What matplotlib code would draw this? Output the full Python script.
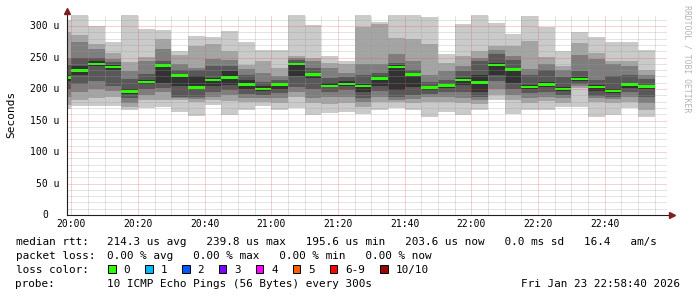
import matplotlib
matplotlib.use("Agg")
import matplotlib.pyplot as plt
import matplotlib.dates as mdates
from matplotlib.patches import Rectangle
import numpy as np
import pandas as pd

# sorted ping rtts per 5 min step (microseconds), ping1 = fastest ... ping10 = slowest
ping1 = [168, 173, 173, 173, 166, 170, 171, 163, 157, 175, 159, 166, 173, 167, 170, 159, 162, 164,
         161, 167, 170, 167, 156, 164, 159, 166, 183, 161, 167, 167, 171, 171, 156, 159, 170, 156]
ping2 = [175, 183, 185, 188, 172, 182, 182, 182, 180, 183, 181, 180, 180, 178, 187, 178, 177, 178,
         172, 180, 179, 178, 180, 180, 178, 177, 190, 182, 178, 181, 178, 202, 180, 178, 180, 167]
ping3 = [188, 195, 200, 197, 178, 190, 196, 185, 184, 188, 191, 186, 186, 186, 196, 186, 187, 188,
         180, 188, 183, 184, 187, 188, 186, 183, 200, 190, 186, 187, 185, 205, 185, 184, 188, 178]
ping4 = [200, 208, 212, 204, 185, 200, 202, 188, 188, 195, 198, 192, 191, 193, 203, 200, 195, 198,
         186, 197, 188, 190, 192, 195, 195, 188, 212, 200, 193, 195, 190, 208, 189, 188, 195, 188]
ping5 = [212, 222, 236, 230, 192, 208, 210, 204, 200, 205, 207, 200, 197, 200, 220, 217, 203, 205,
         196, 205, 198, 203, 198, 202, 207, 196, 222, 210, 200, 203, 197, 212, 197, 193, 202, 200]
ping6 = [222, 236, 244, 238, 200, 214, 240, 224, 220, 218, 229, 214, 204, 210, 241, 226, 209, 212,
         208, 220, 238, 226, 204, 208, 218, 222, 242, 234, 207, 211, 203, 219, 206, 200, 210, 207]
ping7 = [238, 250, 250, 243, 216, 224, 245, 230, 230, 236, 237, 222, 211, 214, 246, 233, 218, 219,
         222, 226, 242, 230, 211, 215, 228, 244, 256, 246, 222, 230, 219, 228, 215, 220, 222, 216]
ping8 = [250, 275, 264, 248, 229, 244, 264, 239, 234, 248, 246, 232, 225, 221, 250, 245, 233, 226,
         239, 239, 256, 245, 222, 228, 237, 250, 262, 252, 231, 240, 230, 254, 247, 240, 236, 222]
ping9 = [290, 285, 272, 257, 243, 251, 280, 254, 269, 271, 261, 238, 244, 234, 253, 250, 241, 239,
         299, 303, 281, 280, 272, 242, 252, 260, 268, 269, 276, 251, 236, 273, 257, 245, 244, 230]
ping10 = [310, 322, 300, 275, 322, 295, 294, 261, 284, 283, 292, 274, 262, 262, 322, 302, 252, 245,
          322, 307, 322, 322, 315, 256, 304, 322, 305, 287, 316, 299, 260, 291, 282, 274, 274, 262]
median = [218, 229, 240, 235, 196, 211, 237, 221, 202, 214, 218, 207, 200, 207, 240, 223, 205, 208,
          205, 217, 235, 223, 202, 206, 214, 210, 238, 231, 203, 207, 200, 216, 203, 197, 207, 204]

first_step = '2026-01-23 19:55'
view_start = '2026-01-23 19:58:40'
view_end = '2026-01-23 22:58:40'

loss_labels = ['0', '1', '2', '3', '4', '5', '6-9', '10/10']
loss_colors = ['#26ff00', '#00b8ff', '#0059ff', '#7e00ff', '#ff00ff', '#ff5e00', '#ff0000', '#a10000']

plt.rcParams['font.family'] = 'DejaVu Sans Mono'

W, H = 697, 297
fig = plt.figure(figsize=(W / 100, H / 100), dpi=100)
fig.patch.set_facecolor('white')
ax = fig.add_axes([67 / W, 82 / H, 600 / W, 200 / H])
ymax = 317.5

edges = mdates.date2num(pd.date_range(first_step, periods=len(median) + 1, freq='5min'))

# smoke: nested bands, outer pair lightest
pings = [ping1, ping2, ping3, ping4, ping5, ping6, ping7, ping8, ping9, ping10]
shades = ['#cacaca', '#a4a4a4', '#7e7e7e', '#585858', '#323232']
for i, shade in enumerate(shades):
    lo = np.append(pings[i], pings[i][-1])
    hi = np.append(pings[9 - i], pings[9 - i][-1])
    ax.fill_between(edges, lo, hi, step='post', color=shade, lw=0, zorder=1)

# median bar, ~2.5 px tall
sw = 1.3 * ymax / 200
med = np.append(median, median[-1]).astype(float)
ax.fill_between(edges, med - sw, med + sw, step='post', color=loss_colors[0], lw=0, zorder=2)

ax.set_ylim(0, ymax)
ax.set_xlim(mdates.date2num(pd.Timestamp(view_start)), mdates.date2num(pd.Timestamp(view_end)))
ax.xaxis.set_major_locator(mdates.MinuteLocator(byminute=[0, 20, 40]))
ax.xaxis.set_minor_locator(mdates.MinuteLocator(byminute=range(0, 60, 5)))
ax.xaxis.set_major_formatter(mdates.DateFormatter('%H:%M'))
yt = np.arange(0, 301, 50)
ax.set_yticks(yt)
ax.set_yticks(np.arange(0, 311, 10), minor=True)
ax.set_axisbelow(False)
# dotted rrdtool grid, drawn over the smoke
ax.grid(which='minor', color='#9a9a9a', alpha=0.55, lw=0.72, ls=(0, (1, 1)))
ax.grid(which='major', color='#de4f4f', alpha=0.5, lw=0.72, ls=(0, (1, 1)))
ax.tick_params(which='both', length=0)
ax.tick_params(axis='x', labelsize=7, pad=3)
ax.tick_params(axis='y', labelleft=False)
for s in ax.spines.values():
    s.set_visible(False)

# y labels, rrdtool style "%3.0f u"
for v in yt:
    lab = '0' if v == 0 else '%d u' % v
    off = 7.5 if v else 7.5 + 11.7
    ax.text(-off / 600, v, lab, transform=ax.get_yaxis_transform(), ha='right', va='center', fontsize=7)

# axes with arrows
ax.plot([0, 1 + 4 / 600], [0, 0], color='#1f1f1f', lw=0.8, transform=ax.transAxes, clip_on=False, zorder=5)
ax.plot([0, 0], [0, 1 + 3 / 200], color='#1f1f1f', lw=0.8, transform=ax.transAxes, clip_on=False, zorder=5)
ax.plot([1 + 5 / 600], [0], marker='>', ms=4, color='#801f1f', transform=ax.transAxes, clip_on=False, zorder=6)
ax.plot([0], [1 + 4 / 200], marker='^', ms=4, color='#801f1f', transform=ax.transAxes, clip_on=False, zorder=6)

fig.text(10.8 / W, 1 - 114 / H, 'Seconds', rotation=90, ha='center', va='center', fontsize=8)
fig.text(687.5 / W, 1 - 59 / H, 'RRDTOOL / TOBI OETIKER', rotation=270, ha='center', va='center',
         fontsize=5.9, color='#b4b4b4')

# legend block
fs = 7.96
tx = 107.3 / W
fig.text(15.5 / W, 1 - 245 / H, 'median rtt:', fontsize=fs, va='baseline')
fig.text(tx, 1 - 245 / H,
         '214.3 us avg   239.8 us max   195.6 us min   203.6 us now   0.0 ms sd   16.4   am/s',
         fontsize=fs, va='baseline')
fig.text(15.5 / W, 1 - 259 / H, 'packet loss:', fontsize=fs, va='baseline')
fig.text(tx, 1 - 259 / H, '0.00 % avg   0.00 % max   0.00 % min   0.00 % now', fontsize=fs, va='baseline')
fig.text(15.5 / W, 1 - 273 / H, 'loss color:', fontsize=fs, va='baseline')
x = 108.3
for lab, col in zip(loss_labels, loss_colors):
    fig.add_artist(Rectangle((x / W, 1 - 273.3 / H), 7.3 / W, 8.3 / H, transform=fig.transFigure,
                             facecolor=col, edgecolor='black', lw=0.7))
    fig.text((x + 15) / W, 1 - 273 / H, lab, fontsize=fs, va='baseline')
    x += 15 + len(lab) * 6.66 + 15.3
fig.text(15.5 / W, 1 - 287 / H, 'probe:', fontsize=fs, va='baseline')
fig.text(tx, 1 - 287 / H, '10 ICMP Echo Pings (56 Bytes) every 300s', fontsize=fs, va='baseline')
fig.text(680 / W, 1 - 287 / H, 'Fri Jan 23 22:58:40 2026', fontsize=fs, va='baseline', ha='right')

fig.savefig('out.png', dpi=100)
